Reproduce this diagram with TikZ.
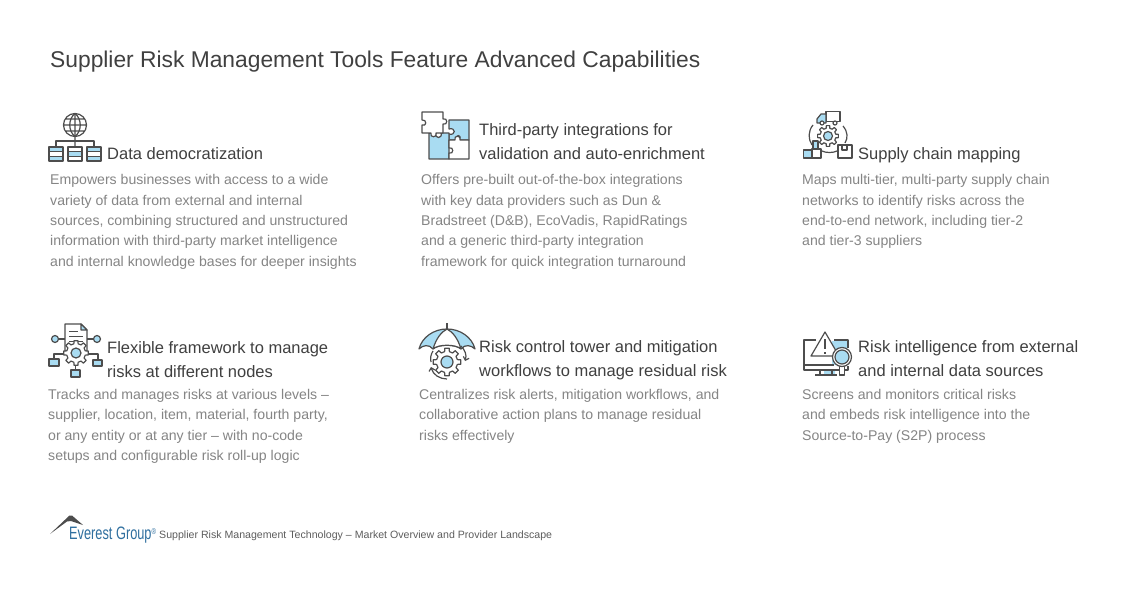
\documentclass[tikz,border=0pt]{standalone}
\usepackage{fontspec}
\setmainfont{Liberation Sans}
\newfontfamily\logofont[FakeStretch=0.71]{Liberation Sans}
\usepackage{xcolor}
\usetikzlibrary{positioning,arrows.meta}
\definecolor{titlegray}{HTML}{404040}
\definecolor{bodygray}{HTML}{858585}
\definecolor{icongray}{HTML}{4D4D4D}
\definecolor{iconblue}{HTML}{A9DCF2}
\definecolor{logoblue}{HTML}{2F6F9F}
\begin{document}
\begin{tikzpicture}[
    x=1pt, y=-1pt,
    title/.style={anchor=west, inner sep=0pt, text=titlegray, font=\fontsize{22.8}{28}\selectfont},
    head/.style={anchor=west, inner sep=0pt, align=left, text=titlegray, font=\fontsize{16.5}{24}\selectfont},
    body/.style={anchor=north west, inner sep=0pt, align=left, text=bodygray, font=\fontsize{14.1}{20.35}\selectfont},
    foot/.style={anchor=west, inner sep=0pt, text=titlegray!85, font=\fontsize{10.6}{12}\selectfont},
    ic/.style={draw=icongray, line width=1.2pt, line join=round},
    icb/.style={ic, fill=iconblue},
    icw/.style={ic, fill=white},
    gear/.pic={
        \draw [ic, fill=white] (-13:.76) \foreach \a in {0,45,...,315} {
            -- (\a-13:.76) -- (\a-9:1) -- (\a+9:1) -- (\a+13:.76) } -- cycle;
    }
]
    \useasboundingbox (0,0) rectangle (1130,591);
    \fill [white] (0,0) rectangle (1130,591);

    \node [title] (maintitle) at (50,62) {Supplier Risk Management Tools Feature Advanced Capabilities};

    % first row
    \node [head] (head1) at (107,153.5) {Data democratization};
    \node [body] (body1) at (50,174.5) {Empowers businesses with access to a wide\\variety of data from external and internal\\sources, combining structured and unstructured\\information with third-party market intelligence\\and internal knowledge bases for deeper insights};
    \node [head] (head2) at (479,141.5) {Third-party integrations for\\validation and auto-enrichment};
    \node [body] (body2) at (421,174.5) {Offers pre-built out-of-the-box integrations\\with key data providers such as Dun \&\\Bradstreet (D\&B), EcoVadis, RapidRatings\\and a generic third-party integration\\framework for quick integration turnaround};
    \node [head] (head3) at (858,155) {Supply chain mapping};
    \node [body] (body3) at (802,174.5) {Maps multi-tier, multi-party supply chain\\networks to identify risks across the\\end-to-end network, including tier-2\\and tier-3 suppliers};

    % second row
    \node [head] (head4) at (107,359.5) {Flexible framework to manage\\risks at different nodes};
    \node [body] (body4) at (48,389) {Tracks and manages risks at various levels --\\supplier, location, item, material, fourth party,\\or any entity or at any tier -- with no-code\\setups and configurable risk roll-up logic};
    \node [head] (head5) at (479,360) {Risk control tower and mitigation\\workflows to manage residual risk};
    \node [body] (body5) at (419,389) {Centralizes risk alerts, mitigation workflows, and\\collaborative action plans to manage residual\\risks effectively};
    \node [head] (head6) at (858,359) {Risk intelligence from external\\and internal data sources};
    \node [body] (body6) at (802,389) {Screens and monitors critical risks\\and embeds risk intelligence into the\\Source-to-Pay (S2P) process};

    % footer
    \fill [icongray] (50,534) -- (69.5,515.5) -- (72,515.5) -- (83,525) -- (71,521) -- (67,521.5) -- cycle;
    \node [anchor=west, inner sep=0pt, text=logoblue] (logo) at (69,535) {\logofont\fontsize{18}{20}\selectfont Everest Group\raisebox{5pt}{\fontsize{8.5}{9}\selectfont\textregistered}};
    \node [foot] (footer) at (159,536) {Supplier Risk Management Technology -- Market Overview and Provider Landscape};

    % globe and servers
    \draw [ic] (75,125) circle (11.5) (63.5,125) -- (86.5,125) (65,119) -- (85,119) (65,131) -- (85,131) (75,113.5) -- (75,147);
    \draw [ic] (75,113.5) .. controls (68,119) and (68,131) .. (75,136.5) .. controls (82,131) and (82,119) .. (75,113.5);
    \draw [ic] (56,147) -- (56,141) -- (94,141) -- (94,147);
    \fill [iconblue] (50,148) rectangle (62,151.6) (50,156.2) rectangle (62,160) (69,151.6) rectangle (81,156.2) (88,148) rectangle (100,151.6) (88,156.2) rectangle (100,160);
    \foreach \sx in {49,68,87} {
        \draw [ic] (\sx,147) rectangle +(14,14);
        \draw [ic, line width=.8pt] (\sx,151.6) -- +(14,0) (\sx,156.2) -- +(14,0);
    }

    % puzzle
    \draw [icb] (449,120) -- (469,120) -- (469,140) -- (459,140) .. controls (463,134) and (454,134) .. (457,140) -- (449,140) -- (449,134) .. controls (456,136) and (456,127) .. (449,129) -- cycle;
    \draw [icb] (429,133) -- (436,133) .. controls (434,139) and (443,139) .. (441,133) -- (449,133) -- (449,140) -- (449,159) -- (429,159) -- cycle;
    \draw [icw] (449,140) -- (455,140) .. controls (453,135) and (462,135) .. (460,140) -- (469,140) -- (469,159) -- (449,159) -- (449,153) .. controls (454,155) and (454,146) .. (449,148) -- cycle;
    \draw [icw] (422,112) -- (443,112) -- (443,119) .. controls (448,117) and (448,126) .. (443,124) -- (443,133) -- (436,133) .. controls (438,138) and (429,138) .. (431,133) -- (422,133) -- (422,125) .. controls (427,127) and (427,119) .. (422,120) -- cycle;

    % supply chain
    \draw [ic] (813,125) .. controls (808,131) and (808,139) .. (812,145) (843,126) .. controls (848,132) and (848,138) .. (845,143) (822,151) .. controls (826,153) and (833,153) .. (837,151);
    \draw [icw] (826,111.5) rectangle (840,121.5);
    \draw [icb] (826,114) -- (821,114) -- (817,119) -- (817,123) -- (826,123) -- cycle;
    \draw [icw] (822,123) circle (2) (835,123) circle (2);
    \pic [scale=10.5] at (828,136) {gear};
    \draw [icb] (828,136) circle (4.5);
    \draw [icb] (813,141) rectangle (818,149);
    \draw [icb] (803.5,150) rectangle (812,158);
    \draw [icw] (812,149) rectangle (821,158);
    \draw [icw] (838,145) rectangle (852,158);
    \draw [ic] (842,145) -- (842,150) -- (847,150) -- (847,145);

    % framework
    \draw [icw] (65,351) -- (65,324) -- (81,324) -- (87,330) -- (87,351) -- cycle;
    \draw [icb] (81,324) -- (87,330) -- (81,330) -- cycle;
    \draw [ic, line width=.8pt] (69,331) -- (78,331) (69,336) -- (83,336) (69,341) -- (83,341);
    \draw [ic] (58.5,339) -- (65,339) (87,339) -- (93.5,339);
    \draw [icb] (55,339) circle (3.5) (97,339) circle (3.5);
    \draw [ic] (54,359) -- (54,354) -- (65,354) (87,354) -- (98,354) -- (98,360) (75.5,364) -- (75.5,370);
    \pic [scale=12.5] at (76,353) {gear};
    \draw [icb] (76,353) circle (5);
    \draw [icb] (49,359) rectangle (59,366);
    \draw [icb] (71,370) rectangle (80,377);
    \draw [icb] (93,360) rectangle (102,366);

    % umbrella
    \draw [ic] (447,329) -- (447,323);
    \draw [icb] (419,349) .. controls (422,337) and (434,329) .. (447,329) .. controls (460,329) and (472,337) .. (475,349) .. controls (471,345) and (465,344) .. (461,349) .. controls (456,344) and (438,344) .. (433,349) .. controls (429,344) and (423,345) .. (419,349) -- cycle;
    \draw [icw] (433,349) .. controls (436,339) and (441,332) .. (447,329) .. controls (453,332) and (458,339) .. (461,349) .. controls (456,344) and (438,344) .. (433,349) -- cycle;
    \pic [scale=14] at (447,362) {gear};
    \draw [icb] (447,362) circle (6);
    \draw [ic] (431,362) .. controls (430,358) and (431,354) .. (433,351);
    \draw [ic, -{Straight Barb[length=3pt]}] (461,346) .. controls (465,350) and (467,355) .. (465,361);
    \draw [ic, -{Straight Barb[length=3pt]}] (447,379) .. controls (440,379) and (433,375) .. (431,367);

    % monitor
    \fill [iconblue] (832,341) rectangle (847,365) (824,370) rectangle (835,375);
    \draw [ic] (816,340) -- (804,340) -- (804,370) -- (848,370) -- (848,366) (834,340) -- (848,340) -- (848,348);
    \draw [ic] (804,365) -- (834,365);
    \draw [ic] (820,370) rectangle (832,375);
    \draw [ic] (815,375) -- (837,375);
    \draw [icw] (825,332) -- (839,356) -- (811,356) -- cycle;
    \draw [ic, line width=1.6pt] (825,339) -- (825,349) (825,352) -- (825,353.5);
    \draw [icw] (839.5,366) -- (839.5,375) -- (844.5,375) -- (844.5,366);
    \draw [icw] (842,357) circle (9.5);
    \draw [icb] (842,357) circle (7);
\end{tikzpicture}
\end{document}
